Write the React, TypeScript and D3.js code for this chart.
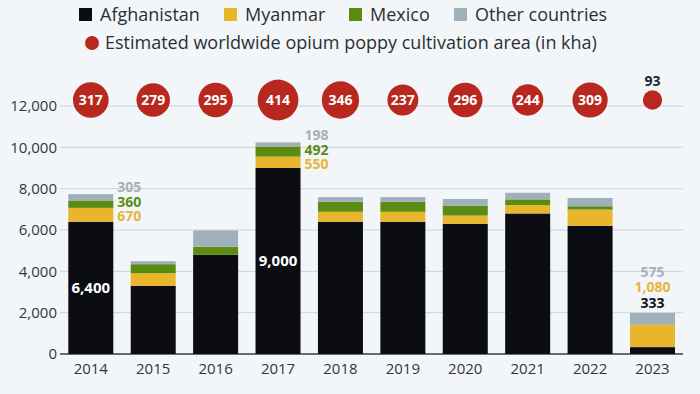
import * as d3 from "d3";

// opium production in tons, by country
const years = ["2014", "2015", "2016", "2017", "2018", "2019", "2020", "2021", "2022", "2023"];
const afghanistan = [6400, 3300, 4800, 9000, 6400, 6400, 6300, 6800, 6200, 333];
const myanmar = [670, 610, 0, 550, 480, 480, 400, 405, 790, 1080];
const mexico = [360, 436, 390, 492, 480, 480, 480, 275, 160, 0];
const other = [305, 145, 790, 198, 230, 230, 320, 320, 400, 575];
// estimated worldwide cultivation area, kha
const cultivationKha = [317, 279, 295, 414, 346, 237, 296, 244, 309, 93];
const yTicks = [0, 2000, 4000, 6000, 8000, 10000, 12000];

const W = 700;
const H = 394;

const keys = ["afghanistan", "myanmar", "mexico", "other"];
const colors: Record<string, string> = {
  afghanistan: "#0b0d12",
  myanmar: "#e9b52a",
  mexico: "#5b8c12",
  other: "#9fb0bb",
};
const labelColors: Record<string, string> = {
  afghanistan: "#111418",
  myanmar: "#e6b43c",
  mexico: "#5b8c14",
  other: "#a4b1bb",
};
const legendNames = ["Afghanistan", "Myanmar", "Mexico", "Other countries"];
const legendX = [79, 224, 349, 454];
const red = "#b8281e";
const font = "'Open Sans', sans-serif";

const App = () => {
  const rows = years.map((yr, i) => ({
    year: yr,
    afghanistan: afghanistan[i],
    myanmar: myanmar[i],
    mexico: mexico[i],
    other: other[i],
  }));
  const series = d3.stack<any>().keys(keys)(rows);

  const x = d3.scaleBand().domain(years).range([60, 683.3]).paddingInner(0.279).paddingOuter(0.133);
  const y = d3.scaleLinear().domain([0, 12000]).range([354, 106]);
  const r = d3.scaleSqrt().domain([0, 414]).range([0, 20.4]);
  const bw = x.bandwidth();
  const fmt = d3.format(",");
  const cy = y(12000) - 6;

  const total = (i: number) => afghanistan[i] + myanmar[i] + mexico[i] + other[i];

  // side labels for 2014 and 2017, stacked labels above 2023
  const sideIdx = [0, 3];
  const lastIdx = years.length - 1;

  return (
    <svg
      width={W}
      height={H}
      style={{ position: "absolute", left: 0, top: 0, background: "#f3f6f9", fontFamily: font }}
    >
      {/* legend */}
      {keys.map((k, i) => (
        <g key={k}>
          <rect x={legendX[i]} y={8} width={13} height={13} fill={colors[k]} />
          <text x={legendX[i] + 21} y={20.5} fontSize={18} fill="#2b2f33">
            {legendNames[i]}
          </text>
        </g>
      ))}
      <circle cx={92} cy={43} r={7} fill={red} />
      <text x={105} y={49} fontSize={18} fill="#2b2f33">
        Estimated worldwide opium poppy cultivation area (in kha)
      </text>

      {/* grid */}
      {yTicks.map((t) => (
        <g key={t}>
          <line
            x1={60}
            x2={683}
            y1={y(t)}
            y2={y(t)}
            stroke={t === 0 ? "#3a3d42" : "#cbd2da"}
            strokeWidth={t === 0 ? 1.5 : 1}
          />
          <text x={57} y={y(t)} dy="0.35em" textAnchor="end" fontSize={15} fill="#33373b">
            {fmt(t)}
          </text>
        </g>
      ))}

      {/* bars */}
      {series.map((s) => (
        <g key={s.key} fill={colors[s.key]}>
          {s.map((d, i) =>
            d[1] - d[0] > 0 ? (
              <rect
                key={i}
                x={x(years[i])}
                y={y(d[1])}
                width={bw}
                height={y(d[0]) - y(d[1])}
              />
            ) : null
          )}
        </g>
      ))}

      {/* labels inside afghanistan bars */}
      {sideIdx.map((i) => (
        <text
          key={"in" + i}
          x={x(years[i])! + bw / 2}
          y={y(afghanistan[i] / 2)}
          dy="0.35em"
          textAnchor="middle"
          fontSize={15}
          fontWeight={700}
          fill="#ffffff"
        >
          {fmt(afghanistan[i])}
        </text>
      ))}

      {/* side labels */}
      {sideIdx.map((i) => {
        const top = y(total(i));
        const items = [
          { k: "other", v: other[i] },
          { k: "mexico", v: mexico[i] },
          { k: "myanmar", v: myanmar[i] },
        ];
        return (
          <g key={"side" + i}>
            {items.map((it, j) => (
              <text
                key={it.k}
                x={x(years[i])! + bw + 4}
                y={top - 7 + j * 14.5}
                dy="0.35em"
                fontSize={14}
                fontWeight={700}
                fill={labelColors[it.k]}
              >
                {fmt(it.v)}
              </text>
            ))}
          </g>
        );
      })}

      {/* labels above last bar */}
      {(() => {
        const i = lastIdx;
        const top = y(total(i));
        const items = [
          { k: "afghanistan", v: afghanistan[i] },
          { k: "myanmar", v: myanmar[i] },
          { k: "other", v: other[i] },
        ];
        return items.map((it, j) => (
          <text
            key={"last" + it.k}
            x={x(years[i])! + bw / 2}
            y={top - 10 - j * 15.5}
            dy="0.35em"
            textAnchor="middle"
            fontSize={14}
            fontWeight={700}
            fill={labelColors[it.k]}
          >
            {fmt(it.v)}
          </text>
        ));
      })()}

      {/* cultivation bubbles */}
      {cultivationKha.map((v, i) => {
        const cx = x(years[i])! + bw / 2;
        const rad = r(v);
        const inside = rad > 12;
        return (
          <g key={"c" + i}>
            <circle cx={cx} cy={cy} r={rad} fill={red} />
            <text
              x={cx}
              y={inside ? cy : cy - rad - 9}
              dy="0.35em"
              textAnchor="middle"
              fontSize={14}
              fontWeight={700}
              fill={inside ? "#ffffff" : "#1b2733"}
            >
              {v}
            </text>
          </g>
        );
      })}

      {/* x axis labels */}
      {years.map((yr) => (
        <text key={yr} x={x(yr)! + bw / 2} y={374} textAnchor="middle" fontSize={15} fill="#33373b">
          {yr}
        </text>
      ))}
    </svg>
  );
};

export default App;
